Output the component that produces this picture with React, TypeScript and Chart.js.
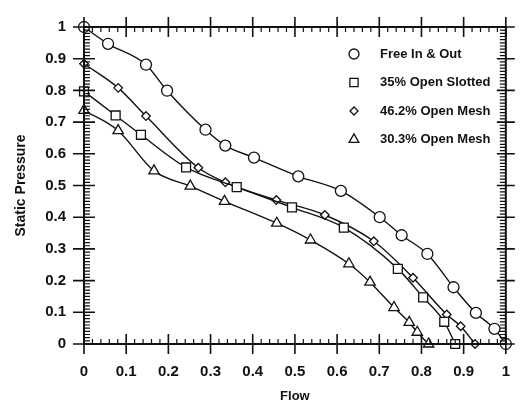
import React, { useEffect, useRef } from 'react';
import { Chart, registerables } from 'chart.js';

Chart.register(...registerables);

// ---------- data ----------
const seriesNames = ['Free In & Out', '35% Open Slotted', '46.2% Open Mesh', '30.3% Open Mesh'];

const freeX = [0, 0.057, 0.147, 0.197, 0.288, 0.335, 0.403, 0.508, 0.609, 0.701, 0.753, 0.814, 0.876, 0.929, 0.973, 1.0];
const freeY = [1.0, 0.947, 0.881, 0.799, 0.676, 0.626, 0.588, 0.529, 0.483, 0.4, 0.343, 0.284, 0.179, 0.098, 0.048, 0.0];

const slottedX = [0, 0.075, 0.135, 0.242, 0.362, 0.493, 0.616, 0.744, 0.804, 0.854, 0.88];
const slottedY = [0.797, 0.721, 0.66, 0.557, 0.495, 0.431, 0.367, 0.237, 0.147, 0.07, 0.0];

const mesh46X = [0, 0.081, 0.147, 0.271, 0.335, 0.456, 0.571, 0.687, 0.78, 0.86, 0.893, 0.927];
const mesh46Y = [0.884, 0.808, 0.719, 0.556, 0.51, 0.454, 0.407, 0.324, 0.209, 0.093, 0.056, 0.0];

const mesh30X = [0, 0.081, 0.166, 0.252, 0.333, 0.457, 0.537, 0.628, 0.678, 0.735, 0.771, 0.79, 0.817];
const mesh30Y = [0.737, 0.673, 0.546, 0.498, 0.45, 0.381, 0.328, 0.253, 0.195, 0.115, 0.068, 0.037, 0.0];

const xTickLabels = ['0', '0.1', '0.2', '0.3', '0.4', '0.5', '0.6', '0.7', '0.8', '0.9', '1'];
const yTickLabels = ['0', '0.1', '0.2', '0.3', '0.4', '0.5', '0.6', '0.7', '0.8', '0.9', '1'];

const xTitle = 'Flow';
const yTitle = 'Static Pressure';

// ---------- styling ----------
const W = 529;
const H = 410;
const FONT = "'Liberation Sans', Arial, Helvetica, sans-serif";
const INK = '#111111';

const pointStyles = ['circle', 'rect', 'rectRot', 'triangle'];
const pointRadii = [5.5, 6.3, 4.3, 6];
const legendRadii = [5, 5.8, 4, 5.6];

function zip(xs: number[], ys: number[]) {
  return xs.map((x, i) => ({ x, y: ys[i] }));
}

function drawMarker(ctx: CanvasRenderingContext2D, style: string, x: number, y: number, r: number) {
  ctx.beginPath();
  if (style === 'circle') {
    ctx.arc(x, y, r, 0, Math.PI * 2);
  } else if (style === 'rect') {
    const s = r * Math.SQRT1_2;
    ctx.rect(x - s, y - s, 2 * s, 2 * s);
  } else if (style === 'rectRot') {
    ctx.moveTo(x, y - r);
    ctx.lineTo(x + r, y);
    ctx.lineTo(x, y + r);
    ctx.lineTo(x - r, y);
    ctx.closePath();
  } else if (style === 'triangle') {
    const h = r * 1.5;
    const hw = r * Math.sqrt(3) / 2;
    ctx.moveTo(x, y - r);
    ctx.lineTo(x + hw, y - r + h);
    ctx.lineTo(x - hw, y - r + h);
    ctx.closePath();
  }
  ctx.fillStyle = '#ffffff';
  ctx.fill();
  ctx.stroke();
}

const framePlugin = {
  id: 'frame',
  afterDatasetsDraw(chart: any) {
    const { ctx, chartArea } = chart;
    const { left, right, top, bottom } = chartArea;
    const xs = chart.scales.x;
    const ys = chart.scales.y;
    ctx.save();
    ctx.strokeStyle = INK;
    // minor ticks
    ctx.lineWidth = 1.2;
    ctx.beginPath();
    for (let i = 1; i < 50; i++) {
      if (i % 5 === 0) continue;
      const px = xs.getPixelForValue(i * 0.02);
      ctx.moveTo(px, bottom);
      ctx.lineTo(px, bottom - 5);
      ctx.moveTo(px, top);
      ctx.lineTo(px, top + 5);
    }
    for (let i = 1; i < 100; i++) {
      if (i % 10 === 0) continue;
      const py = ys.getPixelForValue(i * 0.01);
      ctx.moveTo(left, py);
      ctx.lineTo(left + 6, py);
      ctx.moveTo(right, py);
      ctx.lineTo(right - 6, py);
    }
    ctx.stroke();
    // major ticks (crossing)
    ctx.lineWidth = 1.6;
    ctx.beginPath();
    for (let i = 0; i < xTickLabels.length; i++) {
      const px = xs.getPixelForValue(i * 0.1);
      ctx.moveTo(px, bottom - 10);
      ctx.lineTo(px, bottom + 10);
      ctx.moveTo(px, top - 10);
      ctx.lineTo(px, top + 10);
    }
    for (let i = 0; i < yTickLabels.length; i++) {
      const py = ys.getPixelForValue(i * 0.1);
      ctx.moveTo(left - 11, py);
      ctx.lineTo(left + 11, py);
      ctx.moveTo(right - 9, py);
      ctx.lineTo(right + 9, py);
    }
    ctx.stroke();
    // frame
    ctx.lineWidth = 2;
    ctx.strokeRect(left, top, right - left, bottom - top);
    ctx.restore();
  },
};

const legendPlugin = {
  id: 'insideLegend',
  afterDraw(chart: any) {
    const { ctx } = chart;
    ctx.save();
    ctx.strokeStyle = INK;
    ctx.lineWidth = 1.3;
    ctx.font = `bold 13px ${FONT}`;
    ctx.textBaseline = 'middle';
    ctx.textAlign = 'left';
    chart.data.datasets.forEach((ds: any, i: number) => {
      const y = 54 + i * 28.5;
      drawMarker(ctx, ds.pointStyle, 354, y, legendRadii[i]);
      ctx.fillStyle = INK;
      ctx.fillText(ds.label, 380, y);
    });
    ctx.restore();
  },
};

export default function App() {
  const canvasRef = useRef<HTMLCanvasElement | null>(null);

  useEffect(() => {
    const canvas = canvasRef.current;
    if (!canvas) return;
    const series = [zip(freeX, freeY), zip(slottedX, slottedY), zip(mesh46X, mesh46Y), zip(mesh30X, mesh30Y)];
    const chart = new Chart(canvas, {
      type: 'line',
      data: {
        datasets: series.map((d, i) => ({
          label: seriesNames[i],
          data: d,
          borderColor: INK,
          borderWidth: 1.4,
          backgroundColor: '#ffffff',
          pointStyle: pointStyles[i],
          pointRadius: pointRadii[i],
          pointBorderWidth: 1.3,
          pointBorderColor: INK,
          pointBackgroundColor: '#ffffff',
          cubicInterpolationMode: 'monotone',
          fill: false,
          clip: false,
        })),
      } as any,
      options: {
        animation: false,
        responsive: false,
        devicePixelRatio: 1,
        layout: { padding: { left: 0, right: 7, top: 15, bottom: 0 } },
        plugins: {
          legend: { display: false },
          tooltip: { enabled: false },
        },
        scales: {
          x: {
            type: 'linear',
            min: 0,
            max: 1,
            grid: { display: false, drawTicks: false },
            border: { display: false },
            ticks: {
              stepSize: 0.1,
              padding: 19,
              color: INK,
              font: { family: FONT, size: 15, weight: 'bold' },
              maxRotation: 0,
              autoSkip: false,
              callback: (v: any) => xTickLabels[Math.round(Number(v) * 10)],
            },
            title: {
              display: true,
              text: xTitle,
              color: INK,
              font: { family: FONT, size: 13, weight: 'bold' },
              padding: { top: 0, bottom: 6 },
            },
            afterFit: (s: any) => {
              s.height = H - 344;
            },
          },
          y: {
            type: 'linear',
            min: 0,
            max: 1,
            grid: { display: false, drawTicks: false },
            border: { display: false },
            ticks: {
              stepSize: 0.1,
              padding: 18,
              color: INK,
              font: { family: FONT, size: 15, weight: 'bold' },
              autoSkip: false,
              callback: (v: any) => yTickLabels[Math.round(Number(v) * 10)],
            },
            title: {
              display: true,
              text: yTitle,
              color: INK,
              font: { family: FONT, size: 14, weight: 'bold' },
              padding: { top: 13, bottom: 0 },
            },
            afterFit: (s: any) => {
              s.width = 84;
            },
          },
        },
      } as any,
      plugins: [framePlugin, legendPlugin],
    });
    return () => chart.destroy();
  }, []);

  return (
    <div style={{ position: 'absolute', left: 0, top: 0, width: W, height: H, background: '#ffffff' }}>
      <canvas ref={canvasRef} width={W} height={H} style={{ display: 'block' }} />
    </div>
  );
}
